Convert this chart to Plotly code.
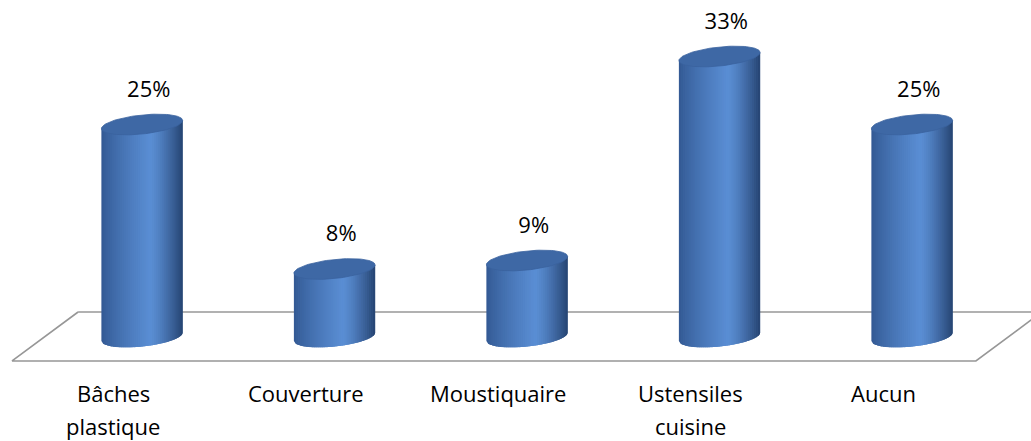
import numpy as np
import plotly.graph_objects as go

# ---- data ----
categories = ["Bâches\nplastique", "Couverture", "Moustiquaire", "Ustensiles\ncuisine", "Aucun"]
values = [25, 8, 9, 33, 25]
value_labels = ["25%", "8%", "9%", "33%", "25%"]

# ---- geometry / style (data units) ----
A = 0.211          # cylinder half width (x units)
B = 1.12           # ellipse vertical semi-axis (y units)
SHEAR = 2.27       # perspective tilt of ellipses (dy per dx)
N_STRIPS = 40
FONT = "Open Sans"

def body_color(u):
    # u in [-1, 1] across the cylinder
    left = np.array([50, 88, 146])
    peak = np.array([90, 142, 212])
    right = np.array([38, 68, 114])
    up = 0.2
    if u <= up:
        t = (u + 1) / (up + 1)
        t = t ** 0.8
        c = left + (peak - left) * t
    else:
        t = (u - up) / (1 - up)
        t = t ** 1.3
        c = peak + (right - peak) * t
    return "rgb(%d,%d,%d)" % tuple(int(round(v)) for v in c)

fig = go.Figure()

# floor parallelogram
floor_x = [-0.332, 4.70, None, -0.332, -0.675, 4.332, 4.675]
floor_y = [2.94, 2.94, None, 2.94, -2.82, -2.82, 2.94]
fig.add_trace(go.Scatter(x=floor_x, y=floor_y, mode="lines",
                         line=dict(color="#979797", width=1.6),
                         hoverinfo="skip", showlegend=False))

# cylinder bodies, as overlapping vertical strips (left to right)
edges = np.linspace(-1, 1, N_STRIPS + 1)
du = edges[1] - edges[0]
for k in range(N_STRIPS):
    u0 = edges[k]
    u1 = min(1.0, edges[k + 1] + 1.2 * du) if k < N_STRIPS - 1 else 1.0
    us = np.linspace(u0, u1, 6)
    xs, ys = [], []
    for i, v in enumerate(values):
        dx = A * us
        bot = SHEAR * dx - B * np.sqrt(np.clip(1 - us * us, 0, None))
        top = v + SHEAR * dx
        xs += list(i + dx) + list(i + dx[::-1]) + [i + dx[0], None]
        ys += list(bot) + list(top[::-1]) + [bot[0], None]
    col = body_color(edges[k] + du / 2)
    fig.add_trace(go.Scatter(x=xs, y=ys, mode="lines", fill="toself",
                             fillcolor=col, line=dict(width=0),
                             hoverinfo="skip", showlegend=False))

# top ellipses
t = np.linspace(0, 2 * np.pi, 90)
ex, ey = [], []
for i, v in enumerate(values):
    dx = A * np.cos(t)
    ex += list(i + dx) + [None]
    ey += list(v + SHEAR * dx + B * np.sin(t)) + [None]
fig.add_trace(go.Scatter(x=ex, y=ey, mode="lines", fill="toself",
                         fillcolor="rgb(62,104,165)",
                         line=dict(color="rgb(58,98,158)", width=0.8),
                         hoverinfo="skip", showlegend=False))

# value labels
fig.add_trace(go.Scatter(x=[i + 0.035 for i in range(len(values))],
                         y=[v + 3.9 for v in values],
                         mode="text", text=value_labels,
                         textfont=dict(family=FONT, size=22, color="#000000"),
                         hoverinfo="skip", showlegend=False))

# category labels
for i, cat in enumerate(categories):
    for j, line in enumerate(cat.split("\n")):
        fig.add_annotation(x=i - 0.15, y=-6.6 - j * 3.9, xref="x", yref="y",
                           text=line, showarrow=False,
                           font=dict(family=FONT, size=22, color="#000000"))

fig.update_layout(
    width=1031, height=441, autosize=False,
    margin=dict(l=0, r=0, t=0, b=0),
    paper_bgcolor="white", plot_bgcolor="white",
    xaxis=dict(range=[-0.7377, 4.6182], visible=False, fixedrange=True),
    yaxis=dict(range=[-12.235, 39.647], visible=False, fixedrange=True),
    showlegend=False,
)

fig.write_html("out.html",
               post_script="document.body.style.margin='0';document.body.style.overflow='hidden';",
               config={"displayModeBar": False})
